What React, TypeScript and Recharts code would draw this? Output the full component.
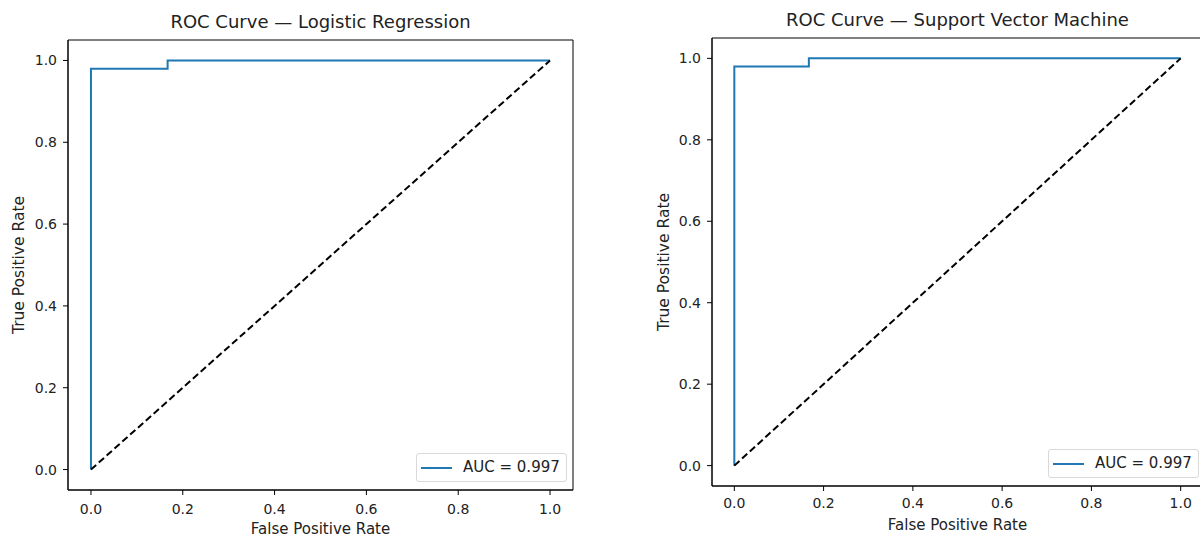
import type { CSSProperties } from "react";
import { Legend, Line, LineChart, ReferenceArea, XAxis, YAxis } from "recharts";

// ROC points (both models give the same curve)
const LR_FPR = [0, 0, 0.167, 0.167, 1];
const LR_TPR = [0, 0.98, 0.98, 1, 1];
const SVM_FPR = [0, 0, 0.167, 0.167, 1];
const SVM_TPR = [0, 0.98, 0.98, 1, 1];
const CHANCE_FPR = [0, 1];
const CHANCE_TPR = [0, 1];

const LR_AUC = "AUC = 0.997";
const SVM_AUC = "AUC = 0.997";
const AXIS_TICKS = [0, 0.2, 0.4, 0.6, 0.8, 1];
const AXIS_DOMAIN: [number, number] = [-0.05, 1.05];

const FONT = "'DejaVu Sans', sans-serif";
const CURVE_COLOR = "#1f77b4";
const TEXT_COLOR = "#222";

function toPoints(fpr: number[], tpr: number[]) {
  return fpr.map((x, i) => ({ fpr: x, tpr: tpr[i] }));
}

function LegendBox({ payload }: { payload?: { value?: string; color?: string; type?: string }[] }) {
  const items = (payload ?? []).filter((item) => item.type !== "none");
  return (
    <div
      style={{
        border: "1px solid #d9d9d9",
        borderRadius: 3,
        background: "#fff",
        padding: "5px 6px 5px 4px",
        fontFamily: FONT,
        fontSize: 15,
        lineHeight: "17px",
        color: TEXT_COLOR,
        whiteSpace: "nowrap",
      }}
    >
      {items.map((item) => (
        <div key={item.value} style={{ display: "flex", alignItems: "center", gap: 11 }}>
          <span style={{ display: "inline-block", width: 31, height: 2, background: item.color ?? CURVE_COLOR }} />
          <span>{item.value}</span>
        </div>
      ))}
    </div>
  );
}

type PanelLayout = {
  left: number;
  width: number;
  margin: { top: number; right: number; bottom: number; left: number };
  xAxisHeight: number;
  xTickMargin: number;
  xLabelOffset: number;
  yLabelOffset: number;
  legend: { left: number; top: number };
};

function RocPanel({
  title,
  fpr,
  tpr,
  auc,
  layout,
}: {
  title: string;
  fpr: number[];
  tpr: number[];
  auc: string;
  layout: PanelLayout;
}) {
  const height = 538;
  const plotLeft = layout.margin.left + 68;
  const plotWidth = layout.width - plotLeft - layout.margin.right;
  const tickStyle = { fill: TEXT_COLOR, fontSize: 14, fontFamily: FONT };
  const xLabelStyle: CSSProperties = { fill: TEXT_COLOR, fontSize: 15, fontFamily: FONT, textAnchor: "middle" };
  const yLabelStyle: CSSProperties = { fill: TEXT_COLOR, fontSize: 15.5, fontFamily: FONT, textAnchor: "middle" };

  return (
    <div style={{ position: "absolute", left: layout.left, top: 0, width: layout.width, height }}>
      <div
        style={{
          position: "absolute",
          left: plotLeft,
          width: plotWidth,
          top: layout.margin.top - 28,
          textAlign: "center",
          fontFamily: FONT,
          fontSize: 18,
          lineHeight: "20px",
          color: TEXT_COLOR,
        }}
      >
        {title}
      </div>
      <LineChart width={layout.width} height={height} margin={layout.margin}>
        <XAxis
          dataKey="fpr"
          type="number"
          domain={AXIS_DOMAIN}
          ticks={AXIS_TICKS}
          interval={0}
          allowDataOverflow
          height={layout.xAxisHeight}
          tickFormatter={(v: number) => v.toFixed(1)}
          tick={tickStyle}
          tickSize={5}
          tickMargin={layout.xTickMargin}
          tickLine={{ stroke: "#000" }}
          axisLine={{ stroke: "#000" }}
          label={{ value: "False Positive Rate", position: "insideBottom", offset: layout.xLabelOffset, style: xLabelStyle }}
        />
        <YAxis
          type="number"
          domain={AXIS_DOMAIN}
          ticks={AXIS_TICKS}
          interval={0}
          allowDataOverflow
          width={68}
          tickFormatter={(v: number) => v.toFixed(1)}
          tick={tickStyle}
          tickSize={5}
          tickMargin={6}
          tickLine={{ stroke: "#000" }}
          axisLine={{ stroke: "#000" }}
          label={{
            value: "True Positive Rate",
            angle: -90,
            position: "insideLeft",
            offset: layout.yLabelOffset,
            style: yLabelStyle,
          }}
        />
        <ReferenceArea
          x1={AXIS_DOMAIN[0]}
          x2={AXIS_DOMAIN[1]}
          y1={AXIS_DOMAIN[0]}
          y2={AXIS_DOMAIN[1]}
          ifOverflow="visible"
          fill="none"
          stroke="#000"
          strokeWidth={1}
        />
        <Line
          data={toPoints(fpr, tpr)}
          dataKey="tpr"
          name={auc}
          type="linear"
          stroke={CURVE_COLOR}
          strokeWidth={2}
          dot={false}
          activeDot={false}
          isAnimationActive={false}
        />
        <Line
          data={toPoints(CHANCE_FPR, CHANCE_TPR)}
          dataKey="tpr"
          name="chance"
          type="linear"
          stroke="#000"
          strokeWidth={2}
          strokeDasharray="7 3.5"
          dot={false}
          activeDot={false}
          legendType="none"
          isAnimationActive={false}
        />
        <Legend
          layout="vertical"
          align="center"
          verticalAlign="middle"
          content={(props: any) => <LegendBox payload={props.payload} />}
          wrapperStyle={{ position: "absolute", left: layout.legend.left, top: layout.legend.top, width: "auto" }}
        />
      </LineChart>
    </div>
  );
}

export default function App() {
  return (
    <div
      style={{
        position: "absolute",
        left: 0,
        top: 0,
        width: 1200,
        height: 538,
        overflow: "hidden",
        background: "#fff",
      }}
    >
      <RocPanel
        title="ROC Curve — Logistic Regression"
        fpr={LR_FPR}
        tpr={LR_TPR}
        auc={LR_AUC}
        layout={{
          left: 0,
          width: 600,
          margin: { top: 40, right: 27, bottom: 0, left: 0 },
          xAxisHeight: 48,
          xTickMargin: 9,
          xLabelOffset: 4,
          yLabelOffset: 18,
          legend: { left: 416, top: 453 },
        }}
      />
      <RocPanel
        title="ROC Curve — Support Vector Machine"
        fpr={SVM_FPR}
        tpr={SVM_TPR}
        auc={SVM_AUC}
        layout={{
          left: 600,
          width: 610,
          margin: { top: 38, right: 7, bottom: 0, left: 44 },
          xAxisHeight: 52,
          xTickMargin: 7,
          xLabelOffset: 8,
          yLabelOffset: 19,
          legend: { left: 448, top: 449 },
        }}
      />
    </div>
  );
}
